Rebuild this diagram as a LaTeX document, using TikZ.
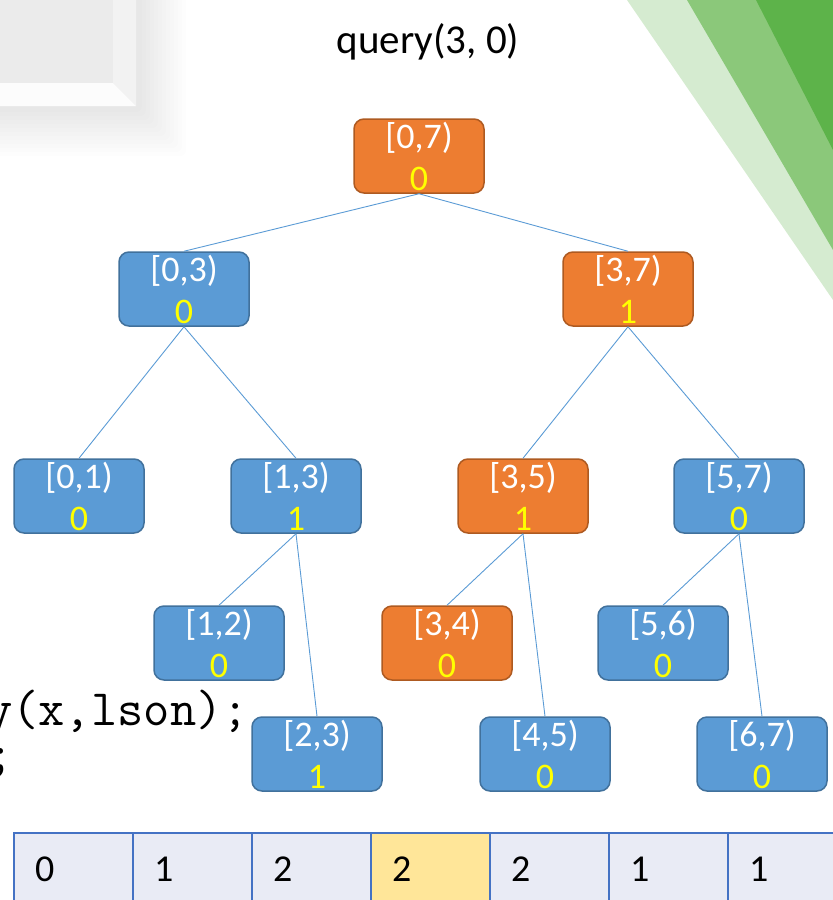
\documentclass[tikz,border=0pt]{standalone}
\usepackage{fontspec}
\setmainfont{Carlito}
\usetikzlibrary{positioning}
\definecolor{segorange}{HTML}{ED7D31}
\definecolor{segorangeline}{HTML}{AE5A21}
\definecolor{segblue}{HTML}{5B9BD5}
\definecolor{segblueline}{HTML}{41719C}
\definecolor{segval}{HTML}{FFFF00}
\definecolor{cellfill}{HTML}{E9EBF5}
\definecolor{cellhit}{HTML}{FFE699}
\definecolor{cellline}{HTML}{4472C4}
\definecolor{greenlight}{HTML}{D5EBD0}
\definecolor{greenmid}{HTML}{8BC87A}
\definecolor{greendark}{HTML}{5DB34A}
\definecolor{slidebox}{HTML}{EBEBEB}

\tikzset{
  seg/.style={rounded corners=10pt, minimum width=130pt, minimum height=74pt,
    inner sep=0pt, align=center, text=white, line width=1.5pt,
    font=\fontsize{36}{42}\selectfont},
  segon/.style={seg, fill=segorange, draw=segorangeline},
  segoff/.style={seg, fill=segblue, draw=segblueline},
  link/.style={segblue, line width=0.9pt},
  cell/.style={draw=cellline, line width=2pt, anchor=north west,
    inner xsep=21pt, inner ysep=0pt, text width=77pt, align=left,
    minimum height=72pt, font=\fontsize{38}{38}\selectfont},
  code/.style={font=\ttfamily\fontsize{51}{51}\selectfont, inner sep=0pt},
}
\newcommand{\segtext}[2]{#1\\\textcolor{segval}{#2}}

\begin{document}
\begin{tikzpicture}[x=1pt,y=-1pt]
  \useasboundingbox (0,0) rectangle (833,900);
  \clip (0,0) rectangle (833,900);

  % slide decoration: box with soft shadow (top left)
  \foreach \i in {1,...,12} {
    \fill[black,opacity=0.009,rounded corners=6pt] (-20,-20) rectangle (138+4*\i,108+4*\i);
  }
  \fill[slidebox] (0,0) rectangle (136,106);
  \fill[white!95!black] (113,0) -- (136,0) -- (136,106) -- (113,83) -- cycle;
  \fill[white!99!black] (0,83) -- (113,83) -- (136,106) -- (0,106) -- cycle;

  % slide decoration: green bands (top right)
  \fill[greenlight] (627,0) -- (833,0) -- (833,300) -- cycle;
  \fill[greenmid] (687,0) -- (833,0) -- (833,250) -- cycle;
  \fill[greendark] (756,0) -- (833,0) -- (833,150) -- cycle;

  % code fragment behind the tree
  \node[code, anchor=base west] (codeline) at (-14,725) {y(x,lson);};
  \node[code, anchor=base] (codesemi) at (1,770) {;};

  % title
  \node[font=\fontsize{41}{41}\selectfont] (title) at (428,42) {query(3, 0)};

  % segment tree
  \node[segon]  (n07) at (419,156) {\segtext{[0,7)}{0}};
  \node[segoff] (n03) at (184,289) {\segtext{[0,3)}{0}};
  \node[segon]  (n37) at (628,289) {\segtext{[3,7)}{1}};
  \node[segoff] (n01) at (79,496)  {\segtext{[0,1)}{0}};
  \node[segoff] (n13) at (296,496) {\segtext{[1,3)}{1}};
  \node[segon]  (n35) at (523,496) {\segtext{[3,5)}{1}};
  \node[segoff] (n57) at (739,496) {\segtext{[5,7)}{0}};
  \node[segoff] (n12) at (219,643) {\segtext{[1,2)}{0}};
  \node[segon]  (n34) at (447,643) {\segtext{[3,4)}{0}};
  \node[segoff] (n56) at (663,643) {\segtext{[5,6)}{0}};
  \node[segoff] (n23) at (317,754) {\segtext{[2,3)}{1}};
  \node[segoff] (n45) at (545,754) {\segtext{[4,5)}{0}};
  \node[segoff] (n67) at (762,754) {\segtext{[6,7)}{0}};

  \foreach \p/\c in {n07/n03,n07/n37,n03/n01,n03/n13,n37/n35,n37/n57,
                     n13/n12,n13/n23,n35/n34,n35/n45,n57/n56,n57/n67} {
    \draw[link] (\p.south) -- (\c.north);
  }

  % array below
  \foreach \v/\f [count=\i from 0] in {0/cellfill,1/cellfill,2/cellfill,2/cellhit,
                                       2/cellfill,1/cellfill,1/cellfill} {
    \node[cell, fill=\f] (cell\i) at (13+119*\i,832) {\v};
  }
\end{tikzpicture}
\end{document}
